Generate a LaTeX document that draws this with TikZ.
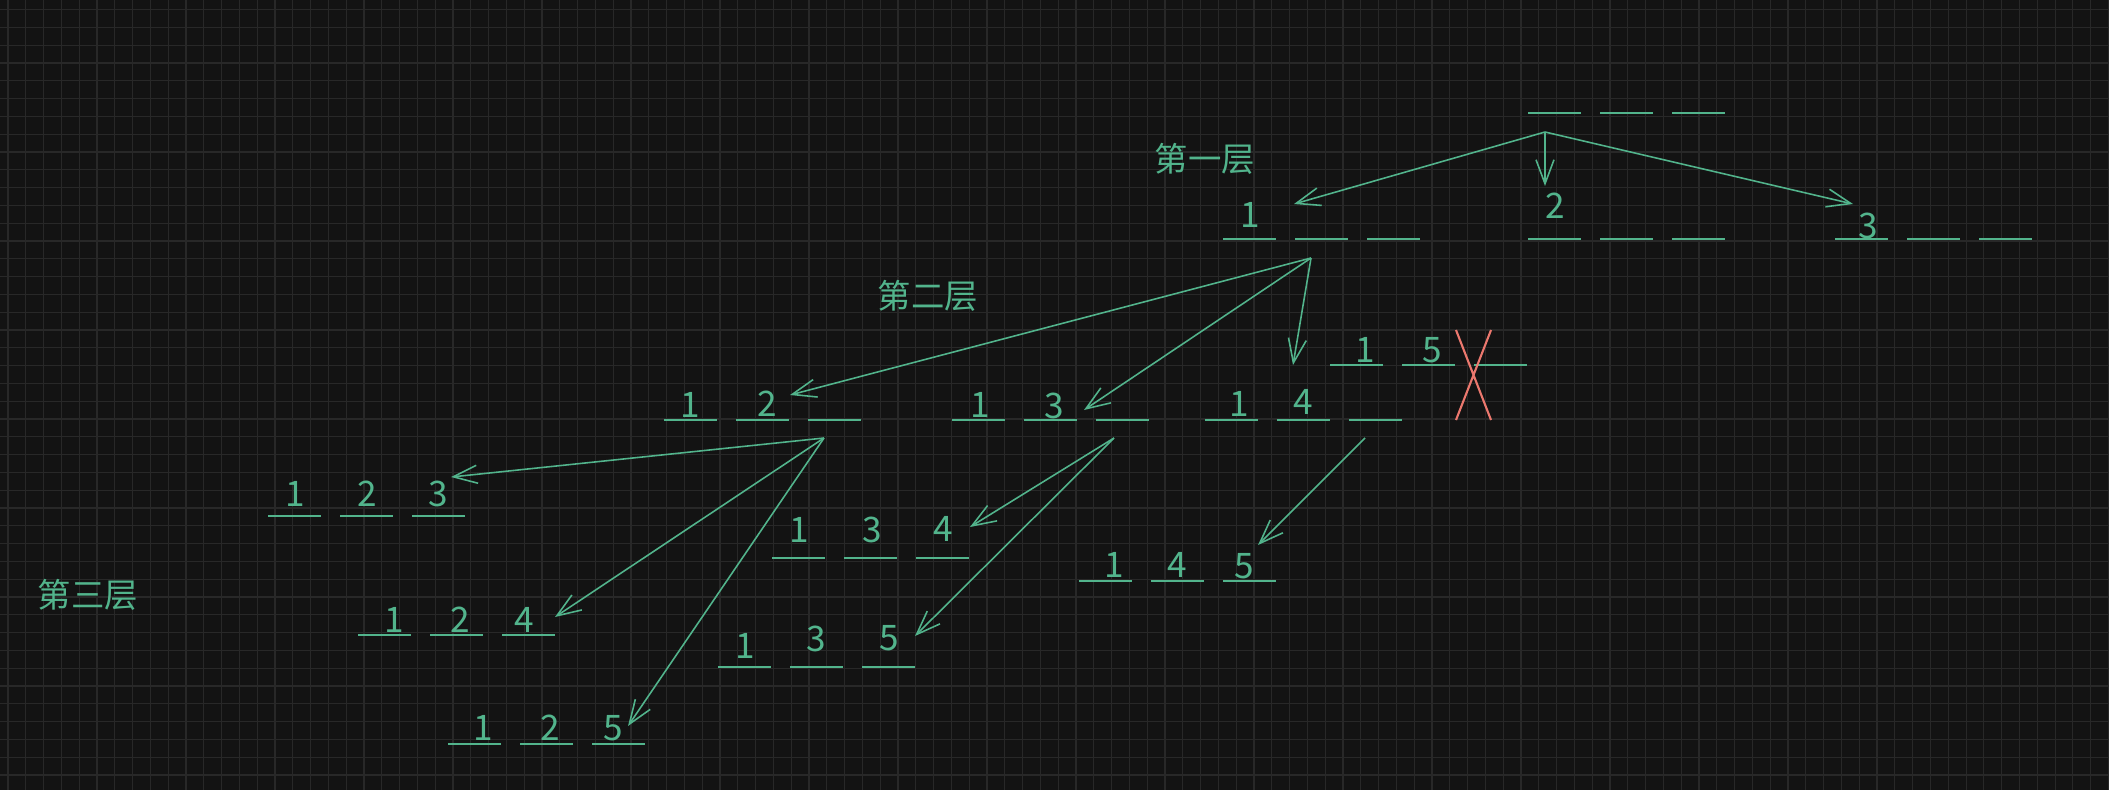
\documentclass[tikz,border=0pt]{standalone}
\usepackage{fontspec}
\setmainfont{Noto Sans CJK SC}
\usetikzlibrary{arrows.meta}
\definecolor{bgcol}{RGB}{19,19,19}
\definecolor{gridcol}{RGB}{40,40,40}
\definecolor{mint}{RGB}{82,180,140}
\definecolor{crosscol}{RGB}{236,120,110}
\tikzset{
    blank/.style={mint, line width=0.7pt},
    num/.style={text=mint, inner sep=0pt, font=\fontsize{10}{12}\selectfont},
    layer/.style={text=mint, inner sep=0pt, font=\fontsize{9.5}{11}\selectfont},
    branch/.style={mint, line width=0.45pt, -{Straight Barb[length=2.4mm,width=1.8mm]}},
}

\begin{document}
\begin{tikzpicture}[x=0.01cm, y=-0.01cm]
    \fill[bgcol] (0,0) rectangle (2109,790);
    \useasboundingbox (0,0) rectangle (2109,790);
    \foreach \gx in {8,25.8,...,2109} \draw[gridcol, line width=0.3pt] (\gx,0) -- (\gx,790);
    \foreach \gy in {9.6,27.4,...,790} \draw[gridcol, line width=0.3pt] (0,\gy) -- (2109,\gy);

    % blanks, three per group
    \foreach \bx/\by in {1528/113, 1223/239, 1528/239, 1835/239,
                         664/420, 952/420, 1205/420, 1330/365,
                         268/516, 358/635, 448/744, 772/558, 718/667, 1079/581}
        \foreach \k in {0,1,2}
            \draw[blank] (\bx+72*\k,\by) -- ++(53,0);

    % layer labels
    \node[layer] (lay1) at (1205,159) {第一层};
    \node[layer] (lay2) at (928,296) {第二层};
    \node[layer] (lay3) at (88,595) {第三层};

    % first layer
    \node[num] (a1) at (1250,215) {1};
    \node[num] (b2) at (1555,206) {2};
    \node[num] (c3) at (1868,226) {3};

    % second layer
    \node[num] (d1) at (690,405) {1};
    \node[num] (d2) at (767,404) {2};
    \node[num] (e1) at (980,405) {1};
    \node[num] (e3) at (1054,406) {3};
    \node[num] (f1) at (1239,404) {1};
    \node[num] (f4) at (1303,402) {4};
    \node[num] (g1) at (1365,350) {1};
    \node[num] (g5) at (1432,350) {5};
    \draw[crosscol, line width=0.6pt] (1456,330) -- (1491,420) (1491,330) -- (1456,420);

    % third layer
    \node[num] (h1) at (295,494) {1};
    \node[num] (h2) at (367,494) {2};
    \node[num] (h3) at (438,494) {3};
    \node[num] (i1) at (394,620) {1};
    \node[num] (i2) at (460,620) {2};
    \node[num] (i4) at (524,620) {4};
    \node[num] (j1) at (483,728) {1};
    \node[num] (j2) at (550,728) {2};
    \node[num] (j5) at (613,728) {5};
    \node[num] (k1) at (799,530) {1};
    \node[num] (k3) at (872,530) {3};
    \node[num] (k4) at (943,529) {4};
    \node[num] (l1) at (745,646) {1};
    \node[num] (l3) at (816,639) {3};
    \node[num] (l5) at (889,638) {5};
    \node[num] (m1) at (1114,565) {1};
    \node[num] (m4) at (1177,565) {4};
    \node[num] (m5) at (1244,566) {5};

    % arrow ends
    \coordinate (root) at (1545,132);
    \coordinate (toA) at (1294,204);
    \coordinate (toB) at (1545,186);
    \coordinate (toC) at (1853,204);
    \coordinate (fromA) at (1311,258);
    \coordinate (toD) at (790,395);
    \coordinate (toE) at (1084,410);
    \coordinate (toF) at (1293,365);
    \coordinate (fromD) at (824,438);
    \coordinate (toH) at (451,477);
    \coordinate (toI) at (555,617);
    \coordinate (toJ) at (628,726);
    \coordinate (fromE) at (1114,438);
    \coordinate (toK) at (970,527);
    \coordinate (toL) at (915,636);
    \coordinate (fromF) at (1365,438);
    \coordinate (toM) at (1258,545);

    \draw[branch] (root) -- (toA);
    \draw[branch] (root) -- (toB);
    \draw[branch] (root) -- (toC);
    \draw[branch] (fromA) -- (toD);
    \draw[branch] (fromA) -- (toE);
    \draw[branch] (fromA) -- (toF);
    \draw[branch] (fromD) -- (toH);
    \draw[branch] (fromD) -- (toI);
    \draw[branch] (fromD) -- (toJ);
    \draw[branch] (fromE) -- (toK);
    \draw[branch] (fromE) -- (toL);
    \draw[branch] (fromF) -- (toM);
\end{tikzpicture}
\end{document}
